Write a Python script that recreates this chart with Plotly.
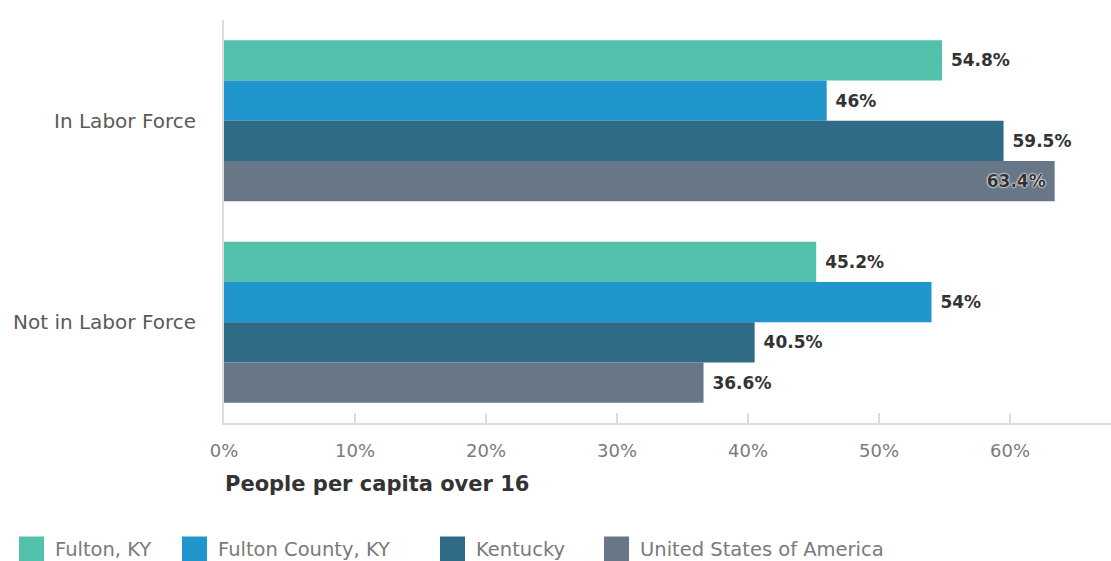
import plotly.graph_objects as go

# Labor force participation, share of people aged 16+
categories = ["In Labor Force", "Not in Labor Force"]
series_names = ["Fulton, KY", "Fulton County, KY", "Kentucky", "United States of America"]
fulton_city = [54.8, 45.2]
fulton_county = [46, 54]
kentucky = [59.5, 40.5]
usa = [63.4, 36.6]
series_values = [fulton_city, fulton_county, kentucky, usa]
colors = ["#52c0ab", "#2196cc", "#2f6a86", "#687787"]

tick_vals = [0, 10, 20, 30, 40, 50, 60]
tick_text = ["0%", "10%", "20%", "30%", "40%", "50%", "60%"]
x_max = 67.7

W, H = 1111, 561
M_L, M_R, M_T, M_B = 224, 0, 20, 138

FONT = "DejaVu Sans"
DARK = "#333333"

fig = go.Figure()
for name, vals, col in zip(series_names, series_values, colors):
    labels = []
    positions = []
    for v in vals:
        lab = f"{v:g}%"
        # labels that would overflow the plot sit just inside the bar end
        if v > 62:
            positions.append("inside")
            labels.append(lab + "\u00a0")
        else:
            positions.append("outside")
            labels.append("\u00a0" + lab)
    fig.add_trace(go.Bar(
        y=categories, x=vals, name=name, orientation="h",
        marker=dict(color=col, line=dict(width=0)),
        text=labels, textposition=positions,
        insidetextanchor="end",
        textfont=dict(family=FONT, size=17, color=DARK, weight=700),
        insidetextfont=dict(family=FONT, size=17, color=DARK, weight=700,
                            shadow="0 0 2px #ffffff, 0 0 2px #ffffff, 0 0 1px #ffffff"),
        outsidetextfont=dict(family=FONT, size=17, color=DARK, weight=700),
        constraintext="none",
        cliponaxis=False,
        showlegend=False,
        hoverinfo="skip",
    ))

fig.update_layout(
    width=W, height=H,
    margin=dict(l=M_L, r=M_R, t=M_T, b=M_B, pad=0),
    paper_bgcolor="white", plot_bgcolor="white",
    barmode="group", bargap=0.2, bargroupgap=0,
    font=dict(family=FONT),
)
fig.update_xaxes(
    range=[0, x_max], tickvals=tick_vals, ticktext=tick_text,
    showgrid=False, zeroline=False,
    showline=True, linecolor="#dddddd", linewidth=2,
    ticks="inside", ticklen=10, tickwidth=2, tickcolor="#dddddd",
    tickfont=dict(family=FONT, size=18, color="#7a7a7a"),
    ticklabelstandoff=10,
    fixedrange=True,
)
fig.update_yaxes(
    autorange="reversed",
    showgrid=False, zeroline=False,
    showline=True, linecolor="#dddddd", linewidth=2,
    ticks="", tickfont=dict(family=FONT, size=20, color="#5a5a5a"),
    ticklabelstandoff=22,
    fixedrange=True,
)

plot_w = W - M_L - M_R
plot_h = H - M_T - M_B


def px_x(px):
    return (px - M_L) / plot_w


def px_y(py):
    return 1 - (py - M_T) / plot_h


# x-axis title, left aligned with the axis origin
fig.add_annotation(
    text="<b>People per capita over 16</b>", xref="paper", yref="paper",
    x=px_x(223), y=px_y(484), xanchor="left", yanchor="middle",
    showarrow=False, font=dict(family=FONT, size=21, color=DARK),
)

# legend row: colour swatch followed by series name
swatch_left = [19, 182, 440, 604]
swatch_size = 25
legend_cy = 549
for name, col, sx in zip(series_names, colors, swatch_left):
    fig.add_shape(
        type="rect", xref="paper", yref="paper",
        x0=px_x(sx), x1=px_x(sx + swatch_size),
        y0=px_y(legend_cy + swatch_size / 2), y1=px_y(legend_cy - swatch_size / 2),
        fillcolor=col, line=dict(width=0), layer="above",
    )
    fig.add_annotation(
        text=name, xref="paper", yref="paper",
        x=px_x(sx + swatch_size + 9), y=px_y(legend_cy),
        xanchor="left", yanchor="middle", showarrow=False,
        font=dict(family=FONT, size=19.5, color="#7a7a7a"),
    )

fig.write_html("out.html")
